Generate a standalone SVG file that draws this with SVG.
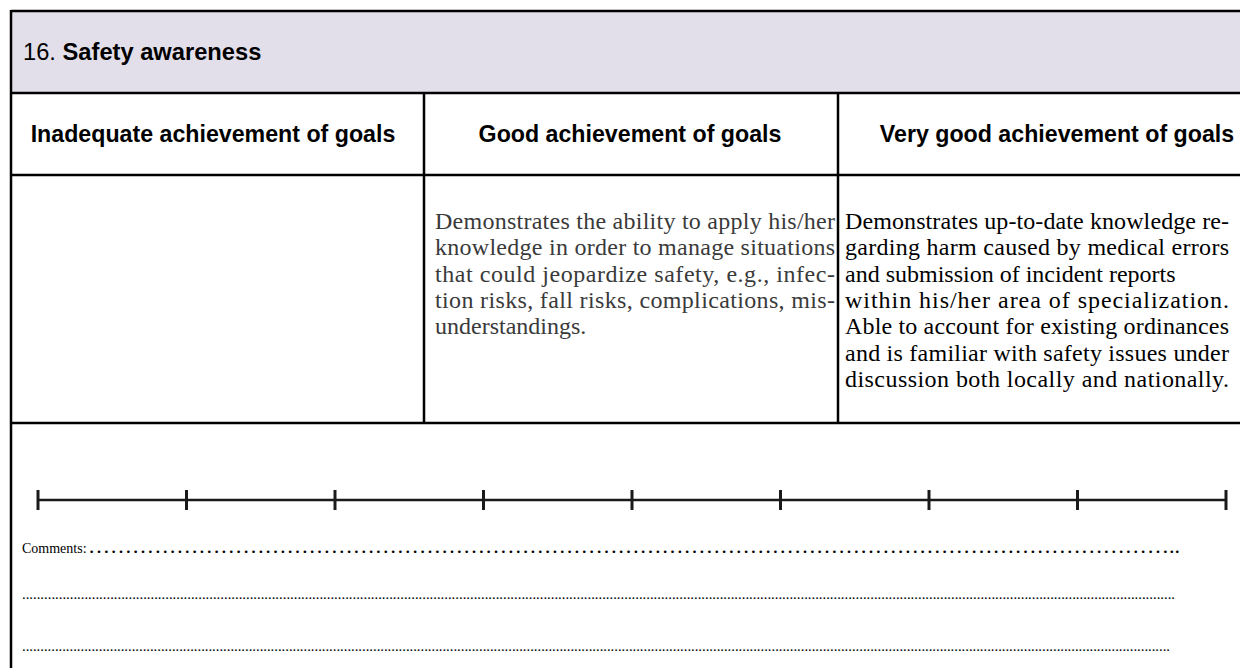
<svg xmlns="http://www.w3.org/2000/svg" width="1240" height="668" viewBox="0 0 1240 668">
<style>
.grid{stroke:#000;stroke-width:2.5;fill:none}
.hdr{font-family:"Liberation Sans",Arial,sans-serif;font-size:23.2px;font-weight:bold;fill:#000;text-anchor:middle}
.ttl{font-family:"Liberation Sans",Arial,sans-serif;font-size:23.7px;fill:#000}
.body{font-family:"Liberation Serif","Times New Roman",serif;font-size:24px;fill:#000}
.gray{fill:#3a3a3a}
.cmt{font-family:"Liberation Serif","Times New Roman",serif;font-size:14px;fill:#000}
.ell{font-family:"Liberation Serif","Times New Roman",serif;font-size:22px;fill:#000}
.dots{font-family:"Liberation Serif","Times New Roman",serif;font-size:14.7px;fill:#000}
.scale{stroke:#1a1a1a;stroke-width:2.5;fill:none}
.tick{stroke:#1a1a1a;stroke-width:3}
</style>
<rect width="1240" height="668" fill="#fff"/>
<g id="title">
<rect x="11" y="11" width="1240" height="82" fill="#e3dfea"/>
<text class="ttl" x="23" y="60">16. <tspan font-weight="bold">Safety awareness</tspan></text>
</g>
<g id="grid">
<line class="grid" x1="11" y1="11" x2="1240" y2="11"/>
<line class="grid" x1="11" y1="93" x2="1240" y2="93"/>
<line class="grid" x1="11" y1="175" x2="1240" y2="175"/>
<line class="grid" x1="11" y1="423" x2="1240" y2="423"/>
<line class="grid" x1="11" y1="10" x2="11" y2="668"/>
<line class="grid" x1="424" y1="93" x2="424" y2="423"/>
<line class="grid" x1="838" y1="93" x2="838" y2="423"/>
</g>
<g id="col1">
<text class="hdr" x="213" y="142">Inadequate achievement of goals</text>
</g>
<g id="col2">
<text class="hdr" x="630" y="142">Good achievement of goals</text>
<g class="body gray">
<text x="435" y="229" textLength="400" lengthAdjust="spacing">Demonstrates the ability to apply his/her</text>
<text x="435" y="255.3" textLength="400" lengthAdjust="spacing">knowledge in order to manage situations</text>
<text x="435" y="281.6" textLength="400" lengthAdjust="spacing">that could jeopardize safety, e.g., infec-</text>
<text x="435" y="307.9" textLength="400" lengthAdjust="spacing">tion risks, fall risks, complications, mis-</text>
<text x="435" y="334.2">understandings.</text>
</g>
</g>
<g id="col3">
<text class="hdr" x="1057" y="142">Very good achievement of goals</text>
<g class="body">
<text x="845" y="229" textLength="384" lengthAdjust="spacing">Demonstrates up-to-date knowledge re-</text>
<text x="845" y="255.3" textLength="384" lengthAdjust="spacing">garding harm caused by medical errors</text>
<text x="845" y="281.6">and submission of incident reports</text>
<text x="845" y="307.9" textLength="384" lengthAdjust="spacing">within his/her area of specialization.</text>
<text x="845" y="334.2" textLength="384" lengthAdjust="spacing">Able to account for existing ordinances</text>
<text x="845" y="360.5" textLength="384" lengthAdjust="spacing">and is familiar with safety issues under</text>
<text x="845" y="386.8" textLength="384" lengthAdjust="spacing">discussion both locally and nationally.</text>
</g>
</g>
<g id="rating-scale">
<line class="scale" x1="38" y1="500" x2="1226" y2="500"/>
<line class="tick" x1="38" y1="490" x2="38" y2="510"/>
<line class="tick" x1="186.5" y1="490" x2="186.5" y2="510"/>
<line class="tick" x1="335" y1="490" x2="335" y2="510"/>
<line class="tick" x1="483.5" y1="490" x2="483.5" y2="510"/>
<line class="tick" x1="632" y1="490" x2="632" y2="510"/>
<line class="tick" x1="780.5" y1="490" x2="780.5" y2="510"/>
<line class="tick" x1="929" y1="490" x2="929" y2="510"/>
<line class="tick" x1="1077.5" y1="490" x2="1077.5" y2="510"/>
<line class="tick" x1="1226" y1="490" x2="1226" y2="510"/>
</g>
<g id="comments">
<text class="cmt" x="22" y="553">Comments:</text>
<text class="ell" x="88" y="553" textLength="1092" lengthAdjust="spacing">&#8230;&#8230;&#8230;&#8230;&#8230;&#8230;&#8230;&#8230;&#8230;&#8230;&#8230;&#8230;&#8230;&#8230;&#8230;&#8230;&#8230;&#8230;&#8230;&#8230;&#8230;&#8230;&#8230;&#8230;&#8230;&#8230;&#8230;&#8230;&#8230;&#8230;&#8230;&#8230;&#8230;&#8230;&#8230;&#8230;&#8230;&#8230;&#8230;&#8230;&#8230;&#8230;&#8230;&#8230;&#8230;&#8230;&#8230;&#8230;&#8230;..</text>
<text class="dots" x="22" y="599" textLength="1153" lengthAdjust="spacing">..........................................................................................................................................................................................................................................................................................................................</text>
<text class="dots" x="22" y="651" textLength="1148" lengthAdjust="spacing">..........................................................................................................................................................................................................................................................................................................................</text>
</g>
</svg>
